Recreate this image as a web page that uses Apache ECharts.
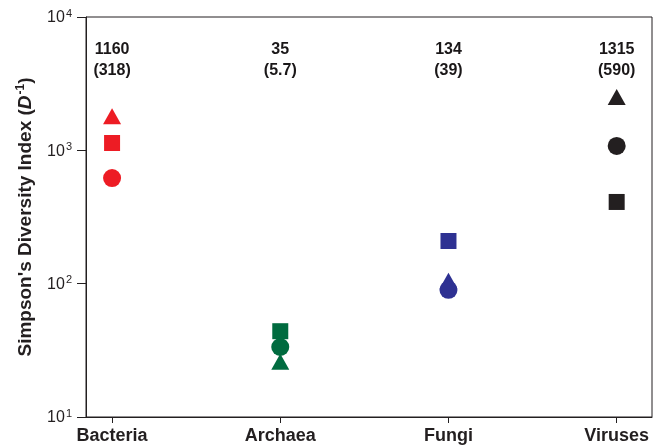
<!DOCTYPE html>
<html>
<head>
<meta charset="utf-8">
<script src="https://cdn.jsdelivr.net/npm/echarts@6/dist/echarts.min.js"></script>
<style>
html,body{margin:0;padding:0;background:#fff;}
#chart{width:660px;height:447px;}
</style>
</head>
<body>
<div id="chart"></div>
<script>
// ---- data ----
var categories = ['Bacteria', 'Archaea', 'Fungi', 'Viruses'];
var triangleValues = [1800, 26, 105, 2510];
var squareValues = [1135, 44, 209, 410];
var circleValues = [620, 33.5, 90, 1080];
var meanLabels = ['1160', '35', '134', '1315'];
var sdLabels = ['(318)', '(5.7)', '(39)', '(590)'];
var categoryColors = ['#ED1C24', '#006B3F', '#2E3192', '#231F20'];

var FONT = '"Liberation Sans", Arial, Helvetica, sans-serif';
var INK = '#231F20';

function shapeSeries(name, symbol, size, values) {
  return {
    name: name,
    type: 'scatter',
    symbol: symbol,
    symbolSize: size,
    itemStyle: { opacity: 1 },
    data: values.map(function (v, i) {
      return { value: [i, v], itemStyle: { color: categoryColors[i], opacity: 1 } };
    }),
    z: 3
  };
}

var annotationSeries = {
  type: 'scatter',
  symbolSize: 0,
  silent: true,
  itemStyle: { opacity: 1, color: INK },
  data: categories.map(function (c, i) { return [i, 4750]; }),
  label: {
    show: true,
    position: 'inside',
    formatter: function (p) {
      return meanLabels[p.dataIndex] + '\n' + sdLabels[p.dataIndex];
    },
    color: '#1a1718',
    opacity: 1,
    fontFamily: FONT,
    fontWeight: 'bold',
    fontSize: 16,
    lineHeight: 21,
    align: 'center'
  }
};

var chart = echarts.init(document.getElementById('chart'), null, { renderer: 'canvas' });
chart.setOption({
  animation: false,
  backgroundColor: '#fff',
  grid: {
    left: 86, right: 8, top: 17, bottom: 30,
    show: true, borderColor: INK, borderWidth: 1, backgroundColor: 'transparent'
  },
  xAxis: {
    type: 'value',
    min: -0.155,
    max: 3.21,
    splitLine: { show: false },
    axisLine: { show: true, onZero: false, lineStyle: { color: INK, width: 1 } },
    axisTick: { show: true, inside: false, length: 6, customValues: [0, 1, 2, 3], lineStyle: { color: INK } },
    axisLabel: {
      customValues: [0, 1, 2, 3],
      formatter: function (v) { return categories[Math.round(v)]; },
      color: INK, fontFamily: FONT, fontWeight: 'bold', fontSize: 18, margin: 10
    }
  },
  yAxis: {
    type: 'log',
    logBase: 10,
    min: 10,
    max: 10000,
    splitLine: { show: false },
    minorTick: { show: false },
    axisLine: { show: true, onZero: false, lineStyle: { color: INK, width: 1 } },
    axisTick: { show: true, inside: false, length: 9, lineStyle: { color: INK } },
    axisLabel: {
      margin: 14,
      formatter: function (v) {
        var e = Math.round(Math.log10(v));
        return '{b|10}{s|' + e + '}';
      },
      rich: {
        b: { fontFamily: FONT, fontSize: 16, color: INK, lineHeight: 18, verticalAlign: 'bottom', padding: [7, 0, 0, 0] },
        s: { fontFamily: FONT, fontSize: 11, color: INK, lineHeight: 18, verticalAlign: 'top', padding: [0, 0, 3, 1] }
      }
    },
    name: "{t|Simpson's Diversity Index (}{i|D}{p|-1}{t|)}",
    nameLocation: 'middle',
    nameRotate: 90,
    nameGap: 50,
    nameTextStyle: {
      rich: {
        t: { fontFamily: FONT, fontWeight: 'bold', fontSize: 19, color: INK },
        i: { fontFamily: FONT, fontWeight: 'bold', fontStyle: 'italic', fontSize: 19, color: INK },
        p: { fontFamily: FONT, fontWeight: 'bold', fontSize: 12, color: INK, verticalAlign: 'top', padding: [0, 0, 9, 1] }
      }
    }
  },
  series: [
    shapeSeries('triangle', 'triangle', [18, 16], triangleValues),
    shapeSeries('square', 'rect', [16, 16], squareValues),
    shapeSeries('circle', 'circle', 18, circleValues),
    annotationSeries
  ]
});
</script>
</body>
</html>
